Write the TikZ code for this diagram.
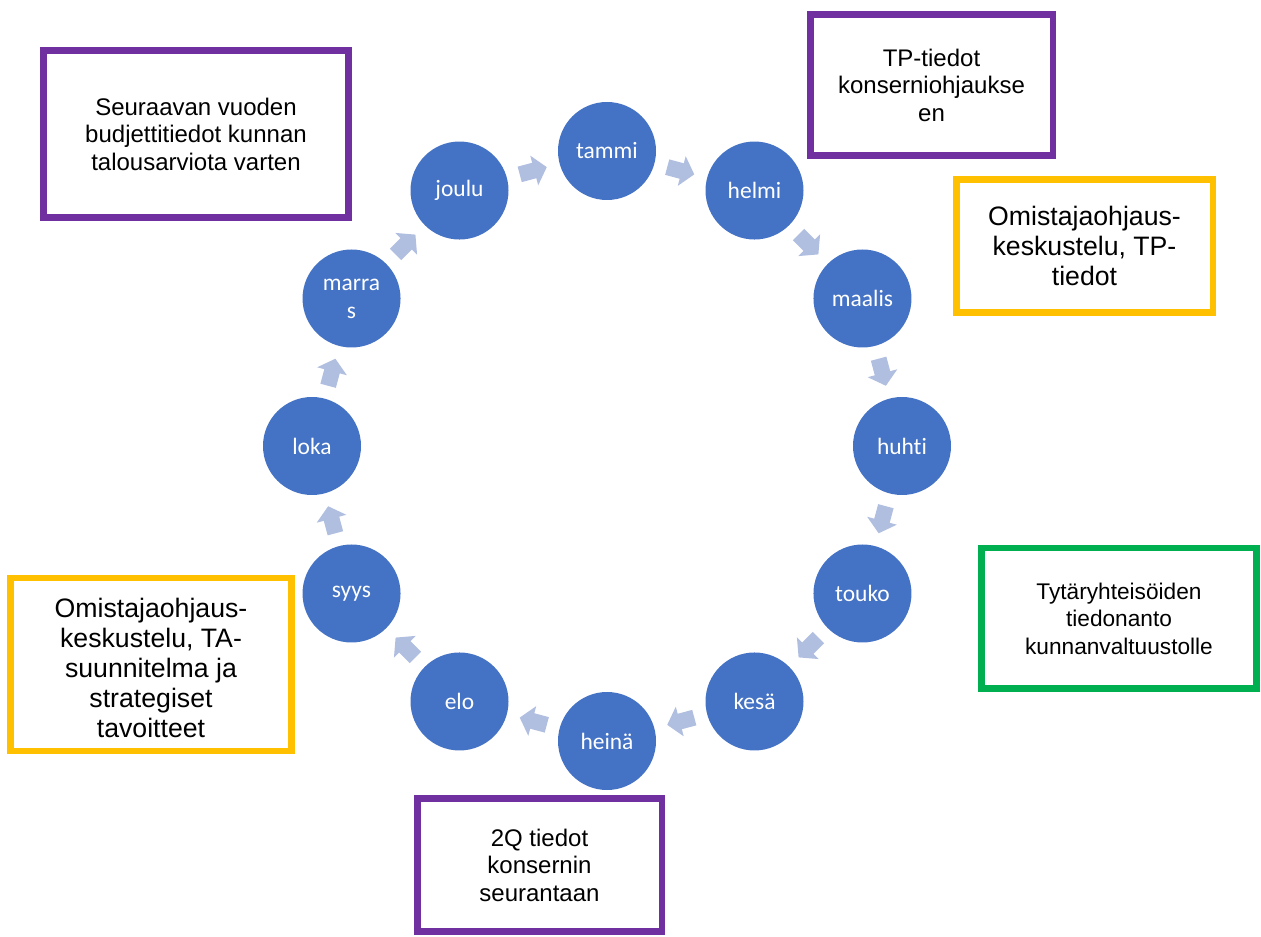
\documentclass[tikz,border=0pt]{standalone}
\usepackage{fontspec}
\setmainfont{Liberation Sans}
\newfontfamily\calibri[Ligatures=NoCommon]{Carlito}
\usetikzlibrary{arrows.meta}
\definecolor{kuublue}{HTML}{4472C4}
\definecolor{nuoli}{RGB}{176,190,224}
\definecolor{violetti}{HTML}{7030A0}
\definecolor{keltainen}{HTML}{FFC000}
\definecolor{vihrea}{HTML}{00B050}
\begin{document}
\begin{tikzpicture}[x=0.75pt,y=-0.75pt,
  month/.style={circle,fill=kuublue,text=white,minimum size=73.5pt,inner sep=0pt,outer sep=0pt,align=center,font=\calibri\fontsize{17.6}{21}\selectfont},
  flow/.style={draw=nuoli,line width=12pt,-{Triangle[length=9.75pt,width=22.5pt]},shorten <=10pt,shorten >=10pt},
  note/.style={draw,line width=4.9pt,fill=white,align=center,font=\fontsize{18}{20.6}\selectfont}]
 \useasboundingbox (0,0) rectangle (1261,937);
 \foreach \name/\lab [count=\i from 0] in {tammi/tammi,helmi/helmi,maalis/maalis,huhti/huhti,touko/touko,kesa/kesä,heina/heinä,elo/elo,syys/syys,loka/loka,marras/{marra\\s},joulu/joulu}
  \node[month] (\name) at ({607+295*sin(30*\i)},{446-295*cos(30*\i)}) {\lab};
 \foreach \a/\b in {tammi/helmi,helmi/maalis,maalis/huhti,huhti/touko,touko/kesa,kesa/heina,heina/elo,elo/syys,syys/loka,loka/marras,marras/joulu,joulu/tammi}
  \draw[flow] (\a) -- (\b);
 \node[note,draw=violetti,minimum width=229.1pt,minimum height=125.6pt] (budjetti) at (196,134) {Seuraavan vuoden\\budjettitiedot kunnan\\talousarviota varten};
 \node[note,draw=violetti,minimum width=181.9pt,minimum height=106.1pt] (tptiedot) at (931.5,85) {TP-tiedot\\konserniohjaukse\\en};
 \node[note,draw=keltainen,minimum width=192.4pt,minimum height=100.1pt,font=\fontsize{20}{22.5}\selectfont] (omtp) at (1084.5,246) {Omistajaohjaus-\\keskustelu, TP-\\tiedot};
 \node[note,draw=vihrea,minimum width=206.6pt,minimum height=105.4pt,font=\fontsize{17}{20.6}\selectfont] (tiedonanto) at (1119,618.5) {Tytäryhteisöiden\\tiedonanto\\kunnanvaltuustolle};
 \node[note,draw=violetti,minimum width=183.4pt,minimum height=100.1pt] (kvartaali) at (539.5,865) {2Q tiedot\\konsernin\\seurantaan};
 \node[note,draw=keltainen,minimum width=211.1pt,minimum height=129.4pt] (omta) at (151,664.5) {};
 \begin{scope}
  \clip (12,580) rectangle (290,738);
  \node[align=center,font=\fontsize{20}{22.5}\selectfont] (omtateksti) at ([yshift=-2.5pt]omta) {Omistajaohjaus-\\keskustelu, TA-\\suunnitelma ja\\strategiset\\tavoitteet};
 \end{scope}
\end{tikzpicture}
\end{document}
